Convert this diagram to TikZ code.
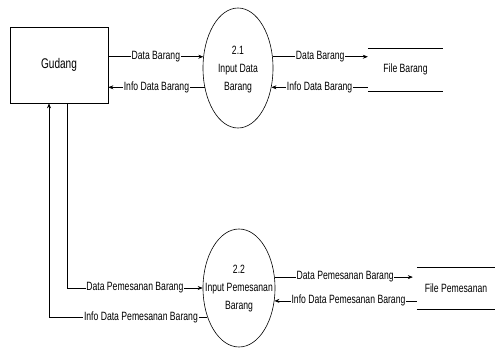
\documentclass[tikz,border=0pt]{standalone}
\usepackage{fontspec}
\setmainfont{Liberation Sans}[FakeStretch=0.72]
\usetikzlibrary{shapes.geometric,arrows.meta}
\begin{document}
\begin{tikzpicture}[x=1pt,y=-1pt,
  lbl/.style={font=\fontsize{12}{14}\selectfont, fill=white, inner sep=0.8pt},
  flow/.style={draw, line width=0.6pt, -{Stealth[length=5pt,width=4pt]}},
  proc/.style={ellipse, draw, line width=0.6pt, inner sep=0pt},
  proctxt/.style={align=center, inner sep=0pt, font=\fontsize{12}{18}\selectfont},
  ent/.style={rectangle, draw, line width=0.7pt, inner sep=0pt, font=\fontsize{14}{16}\selectfont},
  store/.style={inner sep=0pt, font=\fontsize{12}{14}\selectfont},
  storeline/.style={draw, line width=0.6pt}]
\useasboundingbox (0,0) rectangle (495,351);
\node[ent, minimum width=98pt, minimum height=76pt] (gud) at (59,65) {Gudang};
\node[proc, minimum width=70pt, minimum height=120pt] (p1) at (238,68) {};
\node[proctxt] (p1t) at (238,70) {2.1\\Input Data\\Barang};
\node[proc, minimum width=72pt, minimum height=118pt] (p2) at (239,288) {};
\node[proctxt] (p2t) at (239,289) {2.2\\Input Pemesanan\\Barang};
\node[store, minimum width=75pt, minimum height=43pt] (s1) at (405.5,69.5) {File Barang};
\draw[storeline] (s1.north west) -- (s1.north east);
\draw[storeline] (s1.south west) -- (s1.south east);
\node[store, minimum width=78pt, minimum height=42pt] (s2) at (456,288) {File Pemesanan};
\draw[storeline] (s2.north west) -- (s2.north east);
\draw[storeline] (s2.south west) -- (s2.south east);
% top flows
\draw[flow] (gud.east |- p1.162) -- node[lbl] (l1) {Data Barang} (p1.162);
\draw[flow] (p1.210) -- node[lbl] (l2) {Info Data Barang} (gud.east |- p1.210);
\draw[flow] (p1.18) -- node[lbl] (l3) {Data Barang} (s1.west |- p1.18);
\draw[flow] (s1.west |- p1.330) -- node[lbl] (l4) {Info Data Barang} (p1.330);
% bottom flows
\coordinate (k1) at (67,288);
\coordinate (k2) at (49,317);
\draw[flow] (gud.south -| k1) -- (k1) -- node[lbl,pos=0.5] (l5) {Data Pemesanan Barang} (p2.west);
\draw[flow] (p2.223) -- node[lbl,pos=0.42] (l6) {Info Data Pemesanan Barang} (k2 |- p2.223) -- (gud.south -| k2);
\draw[flow] (p2.17) -- node[lbl,pos=0.51] (l7) {Data Pemesanan Barang} ([xshift=-4pt]s2.west |- p2.17);
\draw[flow] (s2.west |- p2.340) -- node[lbl,pos=0.48] (l8) {Info Data Pemesanan Barang} (p2.340);
\end{tikzpicture}
\end{document}
